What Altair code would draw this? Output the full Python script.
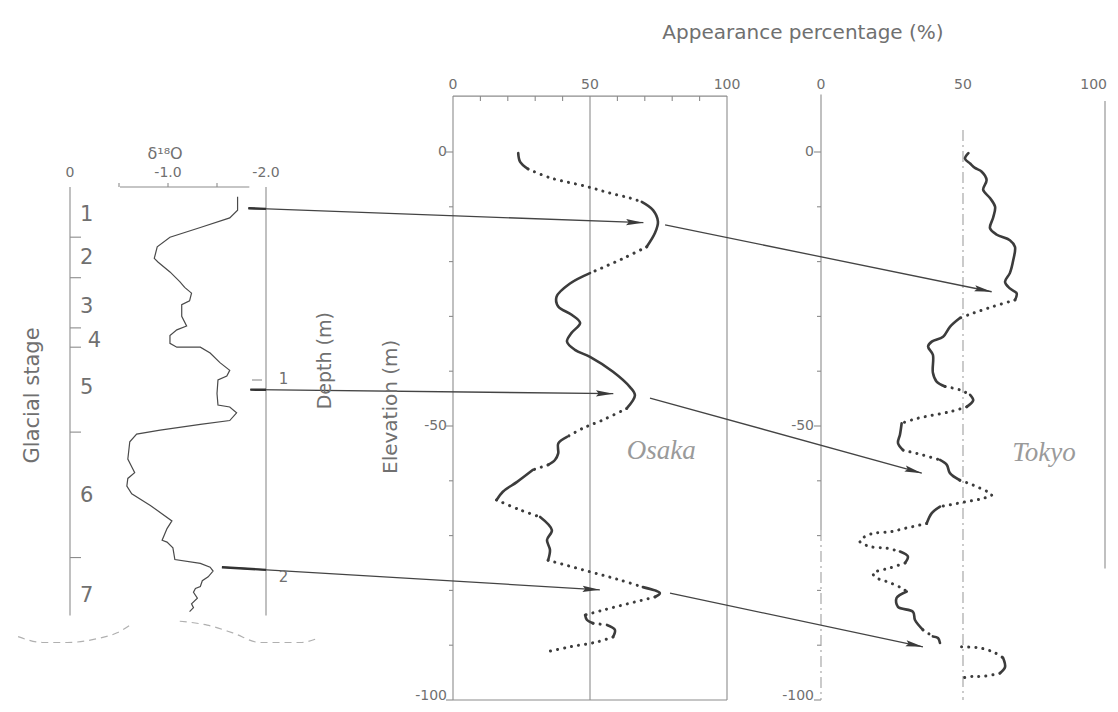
import math
import altair as alt
import pandas as pd

# ---------------- data ----------------
# delta-18O curve (value, depth in m)
D18O_VALUE = [-1.71, -1.71, -1.63, -1.33, -1.02, -0.89, -0.86, -0.90, -1.02, -1.12, -1.17, -1.24,
              -1.22, -1.14, -1.14, -1.19, -1.09, -1.02, -1.02, -1.09, -1.33, -1.43, -1.53, -1.63,
              -1.60, -1.51, -1.50, -1.51, -1.63, -1.70, -1.63, -1.33, -0.92, -0.68, -0.61, -0.59,
              -0.64, -0.66, -0.59, -0.58, -0.63, -0.82, -1.04, -0.99, -0.94, -0.99, -1.05, -1.07,
              -1.33, -1.43, -1.46, -1.41, -1.35, -1.33, -1.28, -1.26, -1.30, -1.24, -1.26, -1.22]
D18O_DEPTH = [0.05, 0.12, 0.16, 0.21, 0.26, 0.31, 0.37, 0.39, 0.44, 0.49, 0.52, 0.55,
              0.59, 0.61, 0.67, 0.72, 0.74, 0.77, 0.81, 0.83, 0.83, 0.86, 0.91, 0.95,
              0.98, 1.00, 1.07, 1.13, 1.14, 1.17, 1.21, 1.23, 1.26, 1.28, 1.32, 1.41,
              1.46, 1.48, 1.51, 1.55, 1.59, 1.65, 1.73, 1.77, 1.83, 1.84, 1.87, 1.93,
              1.95, 1.97, 1.99, 2.02, 2.04, 2.07, 2.08, 2.10, 2.13, 2.16, 2.18, 2.20]

# glacial stages
STAGE_NAMES = ["1", "2", "3", "4", "5", "6", "7"]
STAGE_LABEL_DEPTH = [0.145, 0.37, 0.62, 0.80, 1.04, 1.60, 2.12]
STAGE_BOUNDARY_DEPTH = [0.26, 0.47, 0.73, 0.83, 1.27, 1.92]

# unconformity wave under the delta-18O column (value, depth, piece)
WAVE_VALUE = [0.53, 0.28, 0.03, -0.28, -0.48, -0.64, -1.12, -1.40, -1.66, -1.94, -2.14, -2.35, -2.52]
WAVE_DEPTH = [2.33, 2.36, 2.36, 2.34, 2.31, 2.26, 2.25, 2.27, 2.31, 2.36, 2.36, 2.36, 2.34]
WAVE_PIECE = [1, 1, 1, 1, 1, 1, 2, 2, 2, 2, 2, 2, 2]

# Osaka curve (appearance %, elevation m, style of the piece that follows: S solid, D dotted)
OSAKA_PCT = [23.8, 24.5, 27.4, 35.4, 48.8, 57.3, 64.6, 68.9, 73.0, 74.8, 73.7, 70.7, 62.2, 50.0,
             42.7, 37.8, 38.4, 43.3, 46.4, 43.3, 41.6, 44.5, 50.0, 58.4, 64.6, 66.4, 63.4, 54.7,
             47.4, 41.6, 38.4, 38.4, 37.2, 34.7, 29.2, 23.4, 18.2, 15.9, 24.4, 31.8, 36.1, 34.3,
             35.4, 34.7, 50.0, 60.9, 69.3, 75.5, 73.7, 54.7, 48.2, 48.9, 51.1, 56.2, 59.1, 58.4,
             52.6, 42.7, 34.3]
OSAKA_ELEV = [-0.2, -1.8, -3.1, -4.7, -6.3, -7.5, -8.4, -9.1, -10.6, -12.7, -14.8, -17.3, -19.4,
              -22.1, -24.0, -26.4, -28.2, -29.7, -31.2, -33.0, -34.6, -36.1, -37.4, -40.1, -42.9,
              -44.4, -46.8, -48.9, -50.4, -52.0, -53.2, -55.0, -56.2, -57.1, -58.0, -60.2, -62.0,
              -63.5, -65.3, -66.6, -69.0, -70.8, -72.6, -74.5, -76.6, -78.1, -79.4, -80.5, -81.2,
              -83.6, -84.5, -85.4, -86.0, -86.3, -87.2, -88.5, -89.4, -90.3, -91.2]
OSAKA_STYLE = "SSDDDDDSSSSDDSSSSSSSSSSSSSDDDSSSSDSSSDDSSSSDDDSSDDSSDSSDDDE"

# Tokyo curve (G = gap)
TOKYO_PCT = [51.9, 50.7, 52.5, 54.2, 56.6, 58.3, 57.1, 59.5, 61.3, 60.6, 59.5, 61.9, 66.5, 68.3,
             67.7, 66.5, 64.8, 66.5, 68.9, 68.3, 60.6, 53.6, 48.9, 45.4, 43.0, 39.0, 37.7, 39.4,
             39.4, 40.7, 43.7, 48.9, 52.5, 53.6, 51.3, 45.4, 34.0, 28.4, 27.8, 27.1, 28.9, 35.9,
             41.9, 44.3, 45.4, 48.9, 53.6, 60.1, 57.1, 51.3, 41.9, 39.0, 37.2, 30.2, 24.3, 18.3,
             14.8, 13.7, 17.3, 23.1, 27.8, 30.6, 29.6, 24.3, 18.3, 19.6, 24.3, 28.5, 30.2, 26.6,
             27.1, 32.4, 33.1, 35.9, 39.4, 41.2, 41.9, 49.5, 56.0, 61.3, 64.1, 64.8, 63.0, 57.1,
             53.1, 49.5]
TOKYO_ELEV = [-0.2, -1.2, -2.1, -2.9, -3.6, -5.1, -6.9, -8.4, -10.0, -12.0, -13.9, -15.1, -16.1,
              -17.3, -19.7, -22.1, -23.7, -24.9, -25.8, -27.0, -28.2, -29.4, -30.3, -31.9, -33.7,
              -34.6, -35.5, -37.0, -40.3, -41.9, -42.8, -43.4, -44.3, -45.3, -46.5, -47.4, -48.6,
              -49.5, -51.6, -53.1, -54.4, -55.3, -56.2, -57.1, -58.6, -59.9, -60.8, -62.6, -63.2,
              -63.8, -64.7, -65.9, -67.8, -68.6, -69.3, -69.6, -70.4, -71.1, -72.0, -72.3, -72.9,
              -73.8, -75.0, -75.9, -76.9, -77.7, -78.6, -79.6, -80.2, -81.4, -83.0, -83.9, -85.4,
              -87.2, -88.4, -88.7, -89.6, -90.3, -90.5, -91.4, -92.3, -94.0, -95.1, -95.7, -95.7,
              -96.0]
TOKYO_STYLE = "SSSSSSSSSSSSSSSSSSSDDDSSSSSSSSDDSSDDDSSSDDSSSDDDDDSSDDDDDDDDSSDDDDDDSSSSSDSSGDDDSSDDDE"

# correlation arrows: delta-18O column -> Osaka -> Tokyo
ARROW_A_D18O = [-1.82, -1.84, -1.55]
ARROW_A_DEPTH = [0.11, 1.05, 1.97]
ARROW_A_OSAKA_PCT = [69.5, 58.5, 53.6]
ARROW_A_OSAKA_ELEV = [-12.9, -44.1, -79.9]
ARROW_B_OSAKA_PCT = [77.4, 71.9, 79.2]
ARROW_B_OSAKA_ELEV = [-13.3, -44.9, -80.5]
ARROW_B_TOKYO_PCT = [60.1, 35.5, 35.9]
ARROW_B_TOKYO_ELEV = [-25.5, -58.6, -90.3]

# axes / tick labels
PCT_TICKS = [0, 50, 100]
PCT_TICK_LABELS = ["0", "50", "100"]
ELEV_TICKS = [0, -50, -100]
ELEV_TICK_LABELS = ["0", "-50", "-100"]
D18O_TICKS = [0.0, -1.0, -2.0]
D18O_TICK_LABELS = ["0", "-1.0", "-2.0"]
DEPTH_TICKS = [1, 2]
DEPTH_TICK_LABELS = ["1", "2"]

assert len(D18O_VALUE) == len(D18O_DEPTH)
assert len(OSAKA_PCT) == len(OSAKA_ELEV) == len(OSAKA_STYLE)
assert len(TOKYO_PCT) == len(TOKYO_ELEV) == len(TOKYO_STYLE)

# ---------------- layout of the three columns (figure pixels) ----------------
W, H = 1102, 696


def d18o_pos(v, d):
    return 70.0 - 98.0 * v, 187.0 + 193.0 * d


def osaka_pos(p, e):
    return 453.0 + 2.74 * p, 152.0 - 5.48 * e


def tokyo_pos(p, e):
    return 821.0 + 2.84 * p, 152.0 - 5.48 * e


XS = alt.Scale(domain=[8, 8 + W], nice=False, zero=False)
YS = alt.Scale(domain=[8, 8 + H], nice=False, zero=False, reverse=True)
X = alt.X("x:Q", scale=XS, axis=None)
Y = alt.Y("y:Q", scale=YS, axis=None)

INK = "#3c3c3c"
FRAME = "#8c8c8c"
TXT = "#707070"
SANS = "DejaVu Sans"


def curve_rows(name, xs, ys, styles, pos):
    rows = []
    n = len(xs)
    i = 0
    seg = 0
    while i < n - 1:
        st = styles[i]
        j = i
        while j + 1 < n - 1 and styles[j + 1] == st:
            j += 1
        if st != "G":
            seg += 1
            for k in range(i, j + 2):
                gx, gy = pos(xs[k], ys[k])
                rows.append({"x": gx, "y": gy, "seg": f"{name}{seg}", "style": st, "o": k})
        i = j + 1
    return rows


rows = curve_rows("osaka", OSAKA_PCT, OSAKA_ELEV, OSAKA_STYLE, osaka_pos)
rows += curve_rows("tokyo", TOKYO_PCT, TOKYO_ELEV, TOKYO_STYLE, tokyo_pos)
curves = pd.DataFrame(rows)
solid_df = curves[curves["style"] == "S"]
dotted_df = curves[curves["style"] == "D"]

d18o_df = pd.DataFrame(
    [dict(zip(("x", "y"), d18o_pos(v, d)), o=i) for i, (v, d) in enumerate(zip(D18O_VALUE, D18O_DEPTH))])
wave_df = pd.DataFrame(
    [dict(zip(("x", "y"), d18o_pos(v, d)), o=i, piece=g)
     for i, (v, d, g) in enumerate(zip(WAVE_VALUE, WAVE_DEPTH, WAVE_PIECE))])


# ---- frames (solid / dashed thin lines) ----
def seg(pos, a1, b1, a2, b2):
    x1, y1 = pos(a1, b1)
    x2, y2 = pos(a2, b2)
    return {"x": x1, "y": y1, "x2": x2, "y2": y2}


frames = [
    seg(osaka_pos, 0, 10.2, 0, -100), seg(osaka_pos, 100, 10.2, 100, -100),
    seg(osaka_pos, 0, 10.2, 100, 10.2), seg(osaka_pos, 0, -100, 100, -100),
    seg(osaka_pos, 50, 10.2, 50, -100),
    seg(tokyo_pos, 0, 10.5, 0, -69), seg(tokyo_pos, 100, 9.3, 100, -76),
    seg(d18o_pos, 0.0, 0.0, 0.0, 2.22), seg(d18o_pos, -2.0, 0.0, -2.0, 2.22),
    seg(d18o_pos, -0.51, 0.0, -1.83, 0.0),
]
dashed = [seg(tokyo_pos, 0, -69, 0, -100), seg(tokyo_pos, 50, 4.0, 50, -100)]

ticks = []
for p in [10, 20, 30, 40, 60, 70, 80, 90]:
    x1, y1 = osaka_pos(p, 10.2)
    ticks.append({"x": x1, "y": y1, "x2": x1, "y2": y1 + 5})
for e in range(0, -101, -10):
    ln = 7 if e % 50 == 0 else 4
    for pos in (osaka_pos, tokyo_pos):
        x1, y1 = pos(0, e)
        ticks.append({"x": x1 - ln, "y": y1, "x2": x1, "y2": y1})
for v in [-0.5, -1.0, -1.5]:
    x1, y1 = d18o_pos(v, 0)
    ticks.append({"x": x1, "y": y1 - 4, "x2": x1, "y2": y1})
for d in STAGE_BOUNDARY_DEPTH:
    x1, y1 = d18o_pos(0, d)
    ticks.append({"x": x1, "y": y1, "x2": x1 + 11, "y2": y1})
x1, y1 = d18o_pos(-2.0, DEPTH_TICKS[0])
ticks.append({"x": x1 - 14, "y": y1, "x2": x1 - 4, "y2": y1})
frames_df = pd.DataFrame(frames + ticks)
dashed_df = pd.DataFrame(dashed)

# ---- arrows ----
arrows, heads, stubs = [], [], []
for i in range(3):
    sx, sy = d18o_pos(ARROW_A_D18O[i], ARROW_A_DEPTH[i])
    tx, ty = osaka_pos(ARROW_A_OSAKA_PCT[i], ARROW_A_OSAKA_ELEV[i])
    arrows.append({"x": sx, "y": sy, "x2": tx, "y2": ty})
    ax, _ = d18o_pos(-2.0, 0)
    t = (ax - sx) / (tx - sx)
    stubs.append({"x": sx, "y": sy, "x2": ax, "y2": sy + t * (ty - sy)})
    heads.append({"x": tx, "y": ty, "angle": math.degrees(math.atan2(ty - sy, tx - sx)) % 360})
    sx, sy = osaka_pos(ARROW_B_OSAKA_PCT[i], ARROW_B_OSAKA_ELEV[i])
    tx, ty = tokyo_pos(ARROW_B_TOKYO_PCT[i], ARROW_B_TOKYO_ELEV[i])
    arrows.append({"x": sx, "y": sy, "x2": tx, "y2": ty})
    heads.append({"x": tx, "y": ty, "angle": math.degrees(math.atan2(ty - sy, tx - sx)) % 360})
arrows_df = pd.DataFrame(arrows)
heads_df = pd.DataFrame(heads)
stubs_df = pd.DataFrame(stubs)


# ---- texts ----
def pts(pos, a_list, b_list, labels, dx=0.0, dy=0.0):
    out = []
    for a, b, t in zip(a_list, b_list, labels):
        x, y = pos(a, b)
        out.append({"x": x + dx, "y": y + dy, "t": t})
    return pd.DataFrame(out)


top_osaka = pts(osaka_pos, PCT_TICKS, [12.2] * 3, PCT_TICK_LABELS)
top_tokyo = pts(tokyo_pos, PCT_TICKS[:2], [12.2] * 2, PCT_TICK_LABELS[:2])
top_tokyo_last = pts(tokyo_pos, PCT_TICKS[2:], [12.2], PCT_TICK_LABELS[2:], dx=2)
elev_lab = pd.concat([pts(osaka_pos, [0] * 2, ELEV_TICKS[:2], ELEV_TICK_LABELS[:2], dx=-6),
                      pts(tokyo_pos, [0] * 2, ELEV_TICKS[:2], ELEV_TICK_LABELS[:2], dx=-7)])
elev_lab_low = pd.concat([pts(osaka_pos, [0], ELEV_TICKS[2:], ELEV_TICK_LABELS[2:], dx=-6, dy=-4),
                          pts(tokyo_pos, [0], ELEV_TICKS[2:], ELEV_TICK_LABELS[2:], dx=-7, dy=-4)])
d18o_lab = pts(d18o_pos, D18O_TICKS, [-0.07] * 3, D18O_TICK_LABELS)
stage_lab = pts(d18o_pos, [-0.17, -0.17, -0.17, -0.25, -0.17, -0.17, -0.17], STAGE_LABEL_DEPTH, STAGE_NAMES)
depth_lab = pts(d18o_pos, [-2.18, -2.18], [0.995, 2.02], DEPTH_TICK_LABELS)

title_df = pd.DataFrame([{"x": 803, "y": 33, "t": "Appearance percentage (%)"}])
d18o_title = pts(d18o_pos, [-0.97], [-0.17], ["δ¹⁸O"])
glacial_title = pts(d18o_pos, [0.38], [1.08], ["Glacial stage"])
depth_title = pts(d18o_pos, [-2.6], [0.9], ["Depth (m)"])
elev_title = pts(osaka_pos, [-22.6], [-46.5], ["Elevation (m)"])
site_df = pd.concat([pts(osaka_pos, [76], [-54.5], ["Osaka"]),
                     pts(tokyo_pos, [78.5], [-55.0], ["Tokyo"])])


def text_layer(df, size, color=TXT, angle=0, align="center", font=SANS, style="normal"):
    return alt.Chart(df).mark_text(fontSize=size, color=color, angle=angle, align=align,
                                   baseline="middle", font=font, fontStyle=style).encode(
        x=X, y=Y, text="t:N")


layers = [
    alt.Chart(frames_df).mark_rule(color=FRAME, strokeWidth=1.1).encode(
        x=X, y=Y, x2="x2:Q", y2="y2:Q"),
    alt.Chart(dashed_df).mark_rule(color="#a0a0a0", strokeWidth=1.1, strokeDash=[11, 4, 2, 4]).encode(
        x=X, y=Y, x2="x2:Q", y2="y2:Q"),
    alt.Chart(wave_df).mark_line(color="#b0b0b0", strokeWidth=1.2, strokeDash=[7, 5],
                                 interpolate="monotone").encode(x=X, y=Y, detail="piece:N", order="o:Q"),
    alt.Chart(d18o_df).mark_line(color="#4a4a4a", strokeWidth=1.2).encode(x=X, y=Y, order="o:Q"),
    alt.Chart(arrows_df).mark_rule(color="#444444", strokeWidth=1.3).encode(
        x=X, y=Y, x2="x2:Q", y2="y2:Q"),
    alt.Chart(stubs_df).mark_rule(color="#333333", strokeWidth=2.4).encode(
        x=X, y=Y, x2="x2:Q", y2="y2:Q"),
    alt.Chart(heads_df).mark_point(shape="M 0 0 L -2 -0.36 L -1.7 0 L -2 0.36 Z", filled=True,
                                   color="#3a3a3a", opacity=1, size=300).encode(
        x=X, y=Y, angle=alt.Angle("angle:Q", scale=None)),
    alt.Chart(solid_df).mark_line(color=INK, strokeWidth=2.6, strokeCap="round",
                                  strokeJoin="round", interpolate="catmull-rom").encode(
        x=X, y=Y, detail="seg:N", order="o:Q"),
    alt.Chart(dotted_df).mark_line(color=INK, strokeWidth=3.0, strokeCap="round",
                                   strokeDash=[0.1, 7], interpolate="catmull-rom").encode(
        x=X, y=Y, detail="seg:N", order="o:Q"),
    text_layer(title_df, 20),
    text_layer(top_osaka, 14),
    text_layer(top_tokyo, 14),
    text_layer(top_tokyo_last, 14, align="right"),
    text_layer(elev_lab, 14, align="right"),
    text_layer(elev_lab_low, 14, align="right"),
    text_layer(d18o_lab, 14),
    text_layer(d18o_title, 16),
    text_layer(stage_lab, 21),
    text_layer(depth_lab, 15),
    text_layer(glacial_title, 21, angle=270),
    text_layer(depth_title, 19, angle=270),
    text_layer(elev_title, 20, angle=270),
    text_layer(site_df, 27, color="#9a9a9a", font="Liberation Serif", style="italic"),
]

chart = alt.layer(*layers).properties(
    width=W, height=H, padding=0,
    autosize=alt.AutoSizeParams(type="none"),
    background="white",
).configure_view(stroke=None)

chart.save("out.html", embed_options={"renderer": "svg", "actions": False})
